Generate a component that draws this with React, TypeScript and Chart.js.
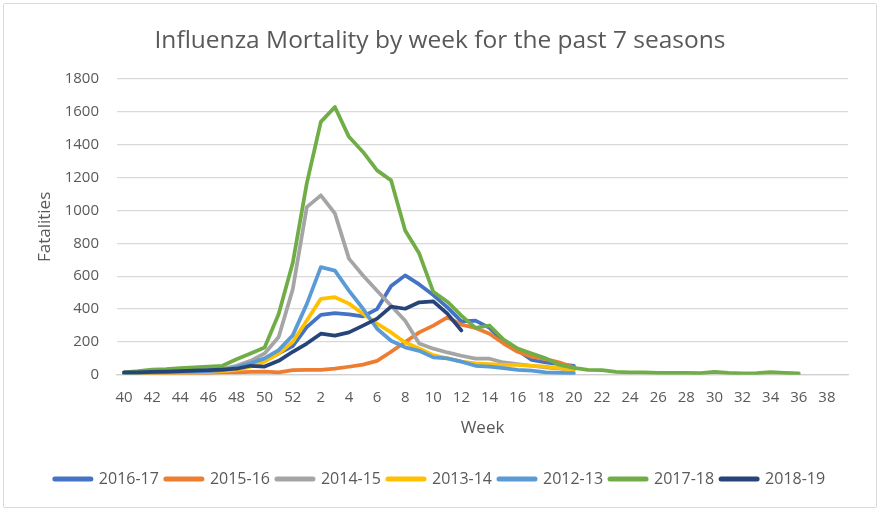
import { useEffect, useRef } from 'react'
import { Chart, registerables } from 'chart.js'
import type { Plugin } from 'chart.js'

Chart.register(...registerables)

const FONT = "'Open Sans', 'Noto Sans', sans-serif"
const TEXT = '#595959'

// flu season weeks, week 40 through week 39 of the next year
const WEEKS = [
  '40', '41', '42', '43', '44', '45', '46', '47', '48', '49', '50', '51', '52',
  '1', '2', '3', '4', '5', '6', '7', '8', '9', '10', '11', '12', '13', '14', '15',
  '16', '17', '18', '19', '20', '21', '22', '23', '24', '25', '26', '27', '28',
  '29', '30', '31', '32', '33', '34', '35', '36', '37', '38', '39',
]

const S2016_17 = [
  10, 12, 15, 18, 20, 22, 25, 30, 40, 60, 90, 130, 175,
  290, 365, 375, 368, 356, 400, 540, 605, 550, 485, 410, 325, 330, 285, 200, 150, 90, 75, 65, 55,
]
const S2015_16 = [
  10, 10, 12, 12, 12, 12, 12, 15, 15, 18, 20, 15, 28,
  30, 30, 37, 49, 62, 85, 140, 200, 258, 299, 350, 305, 285, 250, 190, 140, 110, 95, 75, 45,
]
const S2014_15 = [
  10, 12, 15, 18, 20, 22, 25, 35, 55, 85, 130, 230, 520,
  1020, 1092, 982, 707, 604, 512, 420, 329, 190, 159, 136, 116, 98, 98, 75, 65, 55, 45, 38, 30,
]
const S2013_14 = [
  8, 10, 12, 14, 15, 15, 18, 22, 30, 50, 80, 130, 200,
  330, 462, 472, 433, 372, 311, 258, 197, 160, 120, 100, 80, 70, 65, 60, 60, 55, 50, 40, 30,
]
const S2012_13 = [
  10, 12, 14, 16, 18, 20, 22, 28, 45, 70, 100, 150, 240,
  430, 655, 634, 512, 402, 280, 207, 167, 146, 106, 100, 80, 55, 50, 40, 30, 25, 15, 12, 10,
]
const S2017_18 = [
  15, 22, 32, 35, 40, 45, 50, 55, 95, 130, 166, 370, 680,
  1165, 1539, 1630, 1448, 1356, 1244, 1183, 878, 738, 505, 445, 360, 285, 300, 215, 160, 130, 100, 60, 42,
  30, 28, 18, 15, 14, 12, 12, 12, 10, 18, 12, 8, 10, 16, 12, 8,
]
const S2018_19 = [
  15, 15, 18, 20, 22, 25, 28, 32, 37, 55, 50, 85, 140,
  190, 250, 238, 258, 299, 342, 415, 402, 441, 447, 372, 270,
]

const SERIES = [
  { label: '2016-17', data: S2016_17, color: '#4472C4' },
  { label: '2015-16', data: S2015_16, color: '#ED7D31' },
  { label: '2014-15', data: S2014_15, color: '#A5A5A5' },
  { label: '2013-14', data: S2013_14, color: '#FFC000' },
  { label: '2012-13', data: S2012_13, color: '#5B9BD5' },
  { label: '2017-18', data: S2017_18, color: '#70AD47' },
  { label: '2018-19', data: S2018_19, color: '#264478' },
]

// title and legend are centred on the whole frame, not on the plot box
const centreOnFrame: Plugin<'line'> = {
  id: 'centreOnFrame',
  afterLayout(chart) {
    const shift = (chart.width - (chart.legend?.right ?? chart.width)) / 2
    for (const box of [chart.legend, (chart as any).titleBlock]) {
      if (!box) continue
      box.left += shift
      box.right += shift
    }
  },
}

export default function App() {
  const canvasRef = useRef<HTMLCanvasElement>(null)
  const chartRef = useRef<Chart | null>(null)

  useEffect(() => {
    if (!canvasRef.current) return
    const ctx = canvasRef.current.getContext('2d')
    if (!ctx) return

    chartRef.current?.destroy()

    chartRef.current = new Chart(ctx, {
      type: 'line',
      data: {
        labels: WEEKS,
        datasets: SERIES.map((s, i) => ({
          label: s.label,
          data: s.data,
          borderColor: s.color,
          backgroundColor: s.color,
          borderWidth: 3.75,
          borderCapStyle: 'round',
          borderJoinStyle: 'round',
          pointRadius: 0,
          tension: 0,
          fill: false,
          // later seasons are painted on top, like the spreadsheet
          order: SERIES.length - i,
        })),
      },
      plugins: [centreOnFrame],
      options: {
        responsive: true,
        maintainAspectRatio: false,
        animation: false,
        layout: { padding: { left: 0, right: 32, top: 0, bottom: 18 } },
        plugins: {
          title: {
            display: true,
            text: 'Influenza Mortality by week for the past 7 seasons',
            color: TEXT,
            font: { family: FONT, size: 24.5, weight: 'normal' },
            padding: { top: 26.8, bottom: 22.8 },
          },
          legend: {
            position: 'bottom',
            labels: {
              color: TEXT,
              font: { family: FONT, size: 16 },
              usePointStyle: true,
              pointStyle: 'line',
              pointStyleWidth: 36,
              padding: 7,
              sort: (a, b) => (a.datasetIndex ?? 0) - (b.datasetIndex ?? 0),
              generateLabels: (chart) =>
                Chart.defaults.plugins.legend.labels
                  .generateLabels(chart)
                  .map((l) => ({ ...l, lineWidth: 5, lineCap: 'round' as CanvasLineCap })),
            },
          },
          tooltip: { enabled: false },
        },
        scales: {
          x: {
            type: 'category',
            offset: true,
            grid: { display: false, drawTicks: true, tickLength: 14 },
            border: { display: true, color: '#d0d0d0', width: 1.3 },
            ticks: {
              autoSkip: false,
              maxRotation: 0,
              color: TEXT,
              font: { family: FONT, size: 15 },
              padding: 0,
              callback: (_v, i) => (i % 2 === 0 ? WEEKS[i] : ''),
            },
            title: {
              display: true,
              text: 'Week',
              color: TEXT,
              font: { family: FONT, size: 17 },
              padding: { top: 10.8, bottom: 26 },
            },
          },
          y: {
            min: 0,
            max: 1800,
            grid: { color: '#d9d9d9', lineWidth: 1.3, drawTicks: false },
            border: { display: false },
            ticks: {
              stepSize: 200,
              color: TEXT,
              font: { family: FONT, size: 15 },
              padding: 18,
              callback: (v) => String(v),
            },
            title: {
              display: true,
              text: 'Fatalities',
              color: TEXT,
              font: { family: FONT, size: 17 },
              padding: { top: 35, bottom: 0 },
            },
            afterFit: (s) => {
              s.width = 117
            },
          },
        },
      },
    })

    return () => {
      chartRef.current?.destroy()
      chartRef.current = null
    }
  }, [])

  return (
    <div
      style={{
        position: 'fixed',
        left: 0,
        top: 0,
        width: 880,
        height: 515,
        background: '#fff',
      }}
    >
      <div
        style={{
          position: 'absolute',
          left: 3,
          top: 3,
          width: 872,
          height: 503,
          border: '1.5px solid #d9d9d9',
          borderRadius: 2,
        }}
      />
      <canvas ref={canvasRef} />
    </div>
  )
}
